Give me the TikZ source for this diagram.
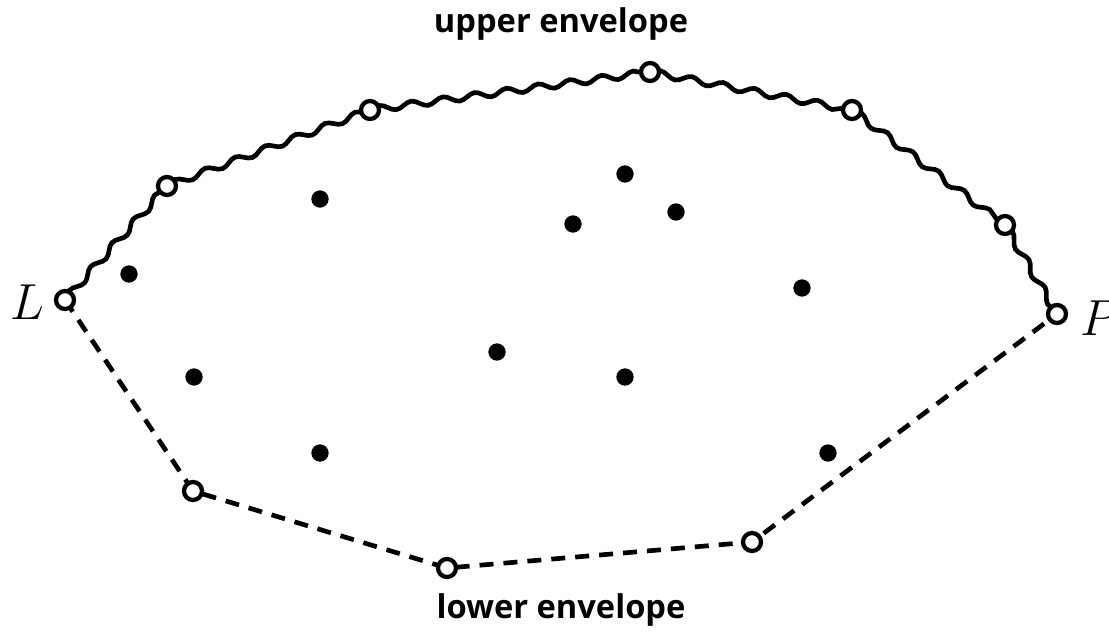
\RequirePackage{fix-cm}
\documentclass[tikz,border=0pt]{standalone}
\usepackage{fontspec}
\newfontfamily\labfont{Open Sans}
\usetikzlibrary{decorations.pathmorphing}
\begin{document}
\begin{tikzpicture}[x=0.75pt,y=-0.75pt,
  hull/.style={circle,draw=black,fill=white,line width=3.2pt,inner sep=0pt,minimum size=13.5pt},
  pt/.style={circle,fill=black,inner sep=0pt,minimum size=13pt},
  wave/.style={line width=3.5pt,decorate,decoration={snake,amplitude=2.4pt,segment length=24pt}},
  dashline/.style={line width=3.5pt,dash pattern=on 10.5pt off 7.5pt},
  lab/.style={font=\labfont\bfseries\fontsize{24.5}{28}\selectfont},
  letterlab/.style={font=\fontsize{38}{44}\selectfont}]
\useasboundingbox (0,0) rectangle (1109,637);
% hull points
\coordinate (L) at (65,300);
\coordinate (u1) at (167,186);
\coordinate (u2) at (370,110);
\coordinate (u3) at (650,72);
\coordinate (u4) at (852,110);
\coordinate (u5) at (1005,225);
\coordinate (P) at (1057,314);
\coordinate (d1) at (193,491);
\coordinate (d2) at (447,568);
\coordinate (d3) at (752,542);
% upper envelope
\draw[wave] (L) -- (u1);
\draw[wave] (u1) -- (u2);
\draw[wave] (u2) -- (u3);
\draw[wave] (u3) -- (u4);
\draw[wave] (u4) -- (u5);
\draw[wave] (u5) -- (P);
% lower envelope
\draw[dashline] (L) -- (d1) -- (d2) -- (d3) -- (P);
% hollow nodes
\foreach \n in {L,u1,u2,u3,u4,u5,P,d1,d2,d3}
  \node[hull] (h\n) at (\n) {};
% inner points
\node[pt] (p1) at (129,274) {};
\node[pt] (p2) at (320,199) {};
\node[pt] (p3) at (625,174) {};
\node[pt] (p4) at (573,224) {};
\node[pt] (p5) at (676,212) {};
\node[pt] (p6) at (802,288) {};
\node[pt] (p7) at (497,352) {};
\node[pt] (p8) at (625,377) {};
\node[pt] (p9) at (194,377) {};
\node[pt] (p10) at (320,453) {};
\node[pt] (p11) at (828,453) {};
% labels
\node[letterlab] (lL) at (27,302) {$L$};
\node[letterlab,anchor=west] (lP) at (1076,318) {$P$};
\node[lab] (up) at (561,24) {upper envelope};
\node[lab] (lo) at (561,610) {lower envelope};
\end{tikzpicture}
\end{document}
